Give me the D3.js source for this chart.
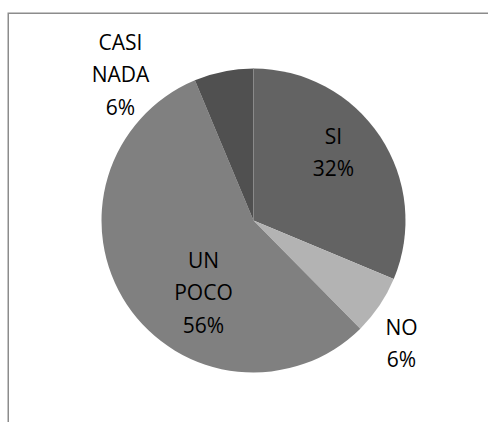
<!DOCTYPE html>
<html>
<head>
<meta charset="utf-8">
<script src="https://cdn.jsdelivr.net/npm/d3@7"></script>
<style>
  body { margin: 0; background: #fff; }
  svg { display: block; }
  .label { font-family: "Open Sans", "Noto Sans", sans-serif; font-size: 21px; fill: #000; }
</style>
</head>
<body>
<svg id="chart" width="488" height="422"></svg>
<script>
// data (slice sizes from the angles, labels as printed)
const categories = ["SI", "NO", "UN POCO", "CASI NADA"];
const values = [31.3, 6.3, 56.1, 6.3];
const percentLabels = ["32%", "6%", "56%", "6%"];
const sliceColors = ["#636363", "#b3b3b3", "#808080", "#505050"];

// label layout: offset of first line from pie centre, per slice
const labelOffsets = [[80, -77], [148, 114], [-50, 47], [-133, -171]];

const W = 488, H = 422;
const cx = 253.5, cy = 220.5, radius = 152;
const lineHeight = 32.5;

const svg = d3.select("#chart");

// chart area border (runs off right and bottom edge)
svg.append("rect")
    .attr("x", 8.25).attr("y", 13.25)
    .attr("width", W).attr("height", H)
    .attr("fill", "none")
    .attr("stroke", "#8c8c8c")
    .attr("stroke-width", 1.5);

const rows = categories.map((c, i) => ({ name: c, value: values[i], pct: percentLabels[i], color: sliceColors[i], off: labelOffsets[i] }));

const pie = d3.pie().sort(null).value(d => d.value);
const arc = d3.arc().innerRadius(0).outerRadius(radius);

const g = svg.append("g").attr("transform", `translate(${cx},${cy})`);

g.selectAll("path.slice")
    .data(pie(rows))
    .join("path")
    .attr("class", "slice")
    .attr("d", arc)
    .attr("fill", d => d.data.color);

// faint separator where the first slice starts
const first = pie(rows)[0];
g.append("line")
    .attr("x1", 0).attr("y1", 0)
    .attr("x2", radius * Math.sin(first.startAngle))
    .attr("y2", -radius * Math.cos(first.startAngle))
    .attr("stroke", "#8a8a8a")
    .attr("stroke-width", 1);

// data labels, name words stacked then percent
const labels = g.selectAll("text.label")
    .data(rows)
    .join("text")
    .attr("class", "label")
    .attr("text-anchor", "middle")
    .attr("transform", d => `translate(${d.off[0]},${d.off[1]})`);

labels.each(function(d) {
    const lines = d.name.split(" ").concat([d.pct]);
    d3.select(this).selectAll("tspan")
        .data(lines)
        .join("tspan")
        .attr("x", 0)
        .attr("y", (l, i) => i * lineHeight)
        .text(l => l);
});
</script>
</body>
</html>
